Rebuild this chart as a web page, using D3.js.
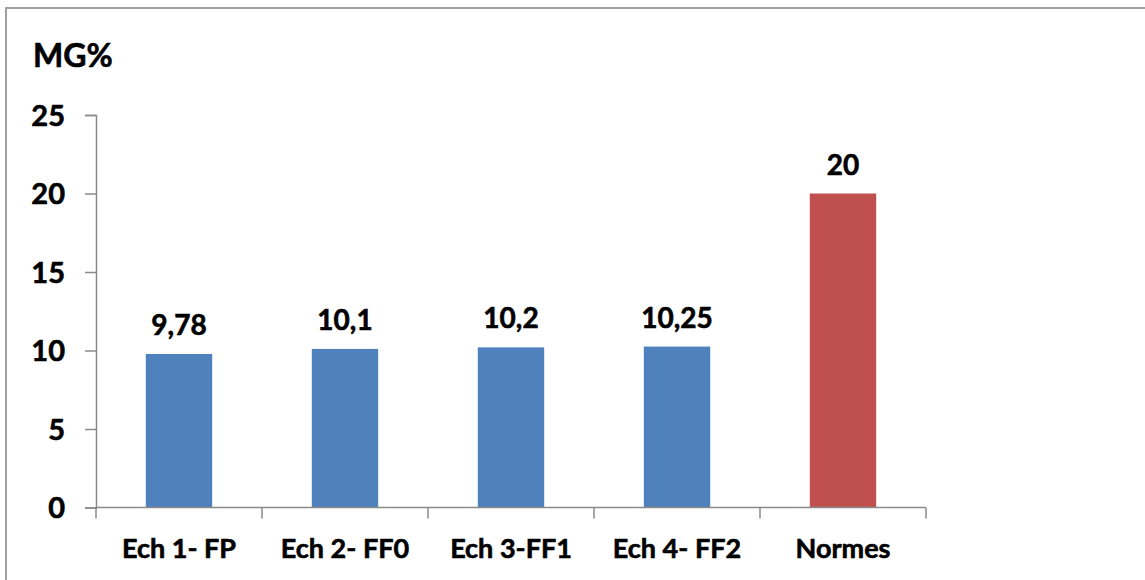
<!DOCTYPE html>
<html>
<head>
<meta charset="utf-8">
<script src="https://cdn.jsdelivr.net/npm/d3@7"></script>
<style>
  html, body { margin: 0; padding: 0; background: #fff; }
  svg { display: block; }
  text { font-family: Lato, "Open Sans", sans-serif; font-weight: 700; fill: #000; stroke: #000; stroke-width: 0.6px; }
</style>
</head>
<body>
<svg id="chart" width="1145" height="580"></svg>
<script>
// Fat content (MG%) per sample, compared against the standard
const categories = ["Ech 1- FP", "Ech 2- FF0", "Ech 3-FF1", "Ech 4- FF2", "Normes"];
const values = [9.78, 10.1, 10.2, 10.25, 20];
const valueLabels = ["9,78", "10,1", "10,2", "10,25", "20"];
const barColors = ["#4F81BD", "#4F81BD", "#4F81BD", "#4F81BD", "#C0504D"];
const yTicks = [0, 5, 10, 15, 20, 25];
const yTitle = "MG%";

const svg = d3.select("#chart");

// outer frame
svg.append("rect")
  .attr("x", 6).attr("y", 8)
  .attr("width", 1160).attr("height", 600)
  .attr("fill", "none").attr("stroke", "#a0a0a0").attr("stroke-width", 2);

const plotLeft = 96, plotRight = 926, plotTop = 115, plotBottom = 507.5;

const x = d3.scaleBand()
  .domain(categories)
  .range([plotLeft, plotRight])
  .paddingInner(0.6)
  .paddingOuter(0.3);

const y = d3.scaleLinear().domain([0, 25]).range([plotBottom, plotTop]);

const axisColor = "#8a8a8a";

// y axis
const yAxis = svg.append("g")
  .attr("transform", `translate(${plotLeft},0)`)
  .call(d3.axisLeft(y).tickValues(yTicks).tickSize(11).tickPadding(20).tickFormat(d3.format("d")));
yAxis.select(".domain").attr("stroke", axisColor).attr("stroke-width", 1.5);
yAxis.selectAll(".tick line").attr("stroke", axisColor).attr("stroke-width", 1.5);
yAxis.selectAll(".tick text")
  .attr("font-size", 29).attr("font-family", "Lato, sans-serif").attr("font-weight", 700)
  .attr("fill", "#000").attr("dy", "0.36em");

// bars
svg.append("g").selectAll("rect")
  .data(values)
  .join("rect")
  .attr("x", (d, i) => x(categories[i]))
  .attr("width", x.bandwidth())
  .attr("y", d => y(d))
  .attr("height", d => y(0) - y(d))
  .attr("fill", (d, i) => barColors[i]);

// value labels above bars
svg.append("g").selectAll("text")
  .data(values)
  .join("text")
  .attr("x", (d, i) => x(categories[i]) + x.bandwidth() / 2)
  .attr("y", d => y(d) - 19)
  .attr("text-anchor", "middle")
  .attr("font-size", 28)
  .text((d, i) => valueLabels[i]);

// x axis: baseline with ticks at category boundaries
const xAxis = svg.append("g");
xAxis.append("line")
  .attr("x1", plotLeft).attr("x2", plotRight)
  .attr("y1", y(0)).attr("y2", y(0))
  .attr("stroke", axisColor).attr("stroke-width", 1.5);
const step = x.step();
const boundaries = d3.range(categories.length + 1).map(i => plotLeft + i * step);
xAxis.selectAll("line.tick")
  .data(boundaries)
  .join("line")
  .attr("class", "tick")
  .attr("x1", d => d).attr("x2", d => d)
  .attr("y1", y(0)).attr("y2", y(0) + 11)
  .attr("stroke", axisColor).attr("stroke-width", 1.5);
xAxis.selectAll("text")
  .data(categories)
  .join("text")
  .attr("x", d => x(d) + x.bandwidth() / 2)
  .attr("y", 558)
  .attr("text-anchor", "middle")
  .attr("font-size", 27)
  .text(d => d);

// y axis title
svg.append("text")
  .attr("x", 33).attr("y", 67)
  .attr("font-size", 32)
  .text(yTitle);
</script>
</body>
</html>
